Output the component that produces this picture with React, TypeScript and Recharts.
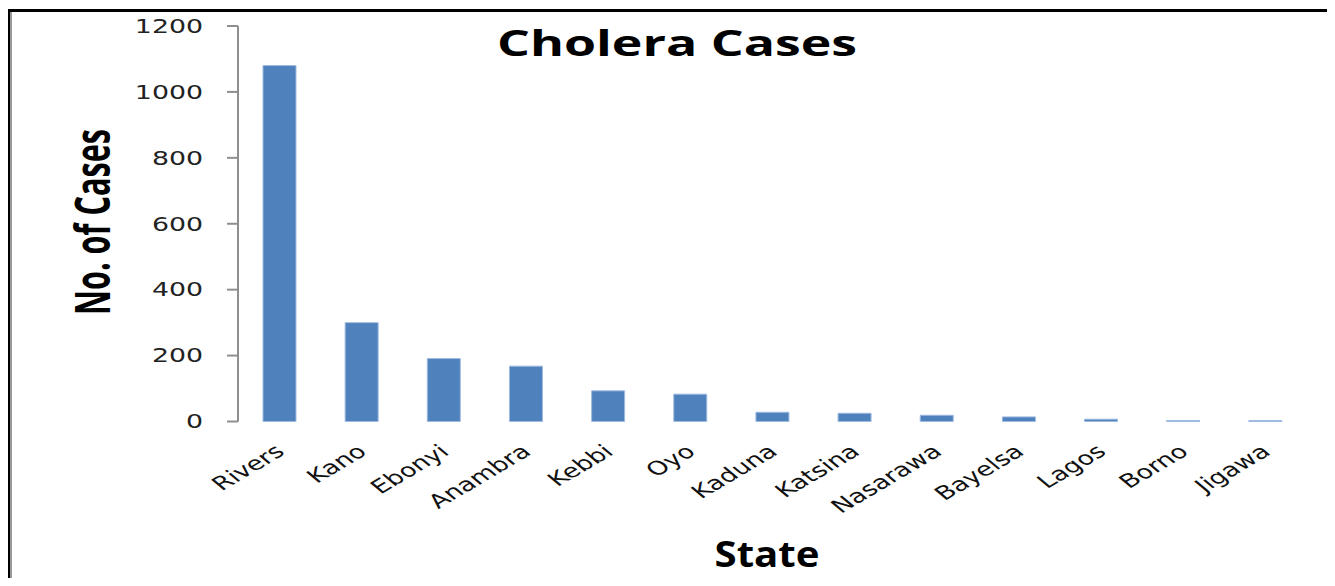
import { BarChart, Bar, XAxis, YAxis } from 'recharts';

// --- data ---
const STATES = [
  'Rivers',
  'Kano',
  'Ebonyi',
  'Anambra',
  'Kebbi',
  'Oyo',
  'Kaduna',
  'Katsina',
  'Nasarawa',
  'Bayelsa',
  'Lagos',
  'Borno',
  'Jigawa',
];
const CASES = [1080, 300, 191, 168, 93, 83, 28, 25, 19, 14, 7, 3, 3];
const Y_TICKS = [0, 200, 400, 600, 800, 1000, 1200];
// boundaries between categories, where Excel puts the x tick marks
const BOUNDARY_TICKS = STATES.map((_, i) => i).concat(STATES.length);

const chartData = STATES.map((state, i) => ({ state, cases: CASES[i] }));

const AXIS_COLOR = '#8f8f8f';
const BAR_COLOR = '#4F81BD';

const YTick = ({ x, y, payload }: any) => (
  <text
    transform={`translate(${x},${y}) scale(1.34,1)`}
    textAnchor="end"
    dominantBaseline="central"
    fontFamily="DejaVu Sans"
    fontSize={20}
    fill="#222"
  >
    {payload.value}
  </text>
);

// rotated, then stretched sideways like the original picture
const StateTick = ({ x, y, payload }: any) => (
  <text
    transform={`translate(${x + 7},${y}) scale(1.42,1) rotate(-40)`}
    textAnchor="end"
    fontFamily="DejaVu Sans"
    fontSize={19}
    fill="#111"
  >
    {payload.value}
  </text>
);

const NoTick = () => <g />;

export default function App() {
  return (
    <div
      style={{
        position: 'relative',
        width: 1335,
        height: 586,
        margin: -8,
        background: '#fff',
        overflow: 'hidden',
      }}
    >
      {/* black frame, top and left only */}
      <div
        style={{
          position: 'absolute',
          left: 7,
          top: 9,
          right: -4,
          bottom: -4,
          borderTop: '3px solid #000',
          borderLeft: '3px solid #000',
          boxShadow: 'inset 2px 0 0 #9a9a9a',
        }}
      />
      <BarChart
        width={1335}
        height={586}
        data={chartData}
        margin={{ top: 26, right: 29, left: 0, bottom: 0 }}
        style={{ position: 'absolute', left: 0, top: 0 }}
      >
        <XAxis
          xAxisId="grid"
          type="number"
          domain={[0, STATES.length]}
          ticks={BOUNDARY_TICKS}
          allowDataOverflow
          height={0}
          tickSize={6}
          tick={NoTick}
          axisLine={{ stroke: AXIS_COLOR, strokeWidth: 2 }}
          tickLine={{ stroke: AXIS_COLOR, strokeWidth: 2 }}
        />
        <XAxis
          dataKey="state"
          height={164.5}
          interval={0}
          axisLine={false}
          tickLine={false}
          tickSize={0}
          tickMargin={32}
          tick={StateTick}
        />
        <YAxis
          width={238}
          domain={[0, 1200]}
          ticks={Y_TICKS}
          interval={0}
          tickSize={11}
          tickMargin={24}
          tick={YTick}
          axisLine={{ stroke: AXIS_COLOR, strokeWidth: 2 }}
          tickLine={{ stroke: AXIS_COLOR, strokeWidth: 2 }}
        />
        <Bar
          dataKey="cases"
          fill={BAR_COLOR}
          stroke="#9fbbe0"
          strokeWidth={1}
          barSize={33}
          isAnimationActive={false}
        />
        <text
          x={677}
          y={56}
          textAnchor="middle"
          fontFamily="Open Sans"
          fontWeight="bold"
          fontSize={35}
          textLength={360}
          lengthAdjust="spacingAndGlyphs"
          fill="#000"
        >
          Cholera Cases
        </text>
        <text
          x={767}
          y={567}
          textAnchor="middle"
          fontFamily="Open Sans"
          fontWeight="bold"
          fontSize={35}
          textLength={105}
          lengthAdjust="spacingAndGlyphs"
          fill="#000"
        >
          State
        </text>
        <text
          transform="translate(110,222) rotate(-90)"
          textAnchor="middle"
          fontFamily="Open Sans"
          fontWeight="bold"
          fontSize={48}
          textLength={186}
          lengthAdjust="spacingAndGlyphs"
          fill="#000"
        >
          No. of Cases
        </text>
      </BarChart>
    </div>
  );
}
